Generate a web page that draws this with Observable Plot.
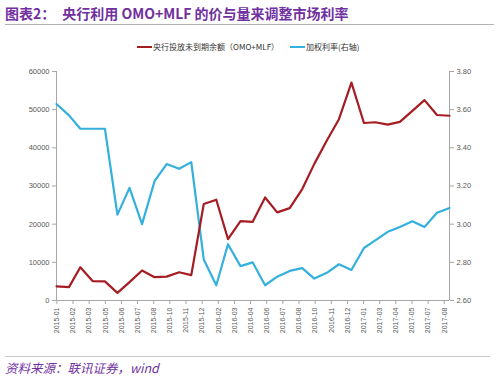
<!DOCTYPE html>
<html><head><meta charset="utf-8">
<script src="https://cdn.jsdelivr.net/npm/d3@7"></script>
<script src="https://cdn.jsdelivr.net/npm/@observablehq/plot@0.6"></script>
<style>
body{margin:0;background:#fff;width:498px;height:384px;overflow:hidden;font-family:"Noto Sans CJK SC","Liberation Sans",sans-serif;}
#title{margin:0 4px 0 5px;height:24px;border-bottom:1px solid #b4b4b4;color:#7030A0;font-weight:bold;font-size:14px;line-height:26px;white-space:pre;}
#title .main{margin-left:7px;}
#chart{position:relative;height:327px;}
#chart svg{display:block;}
.leg{position:absolute;top:16px;font-size:8px;line-height:12px;color:#333;display:flex;align-items:center;white-space:nowrap;}
.leg i{display:inline-block;width:15px;height:2.5px;margin-right:1px;}
#footer{margin:4px 8px 0 5px;border-top:1px solid #c8c8c8;color:#7030A0;font-style:italic;font-size:12.5px;line-height:16px;padding-top:3px;}
</style></head>
<body>
<div id="title">图表2：<span class="main">央行利用 OMO+MLF 的价与量来调整市场利率</span></div>
<div id="chart">
  <div class="leg" style="left:137px"><i style="background:#A61C23"></i>央行投放未到期余额（OMO+MLF）</div>
  <div class="leg" style="left:290px"><i style="background:#33B0DC"></i>加权利率(右轴)</div>
</div>
<div id="footer">资料来源：联讯证券，wind</div>
<script>
const dates = ["2014-12-31","2015-01-31","2015-02-28","2015-03-31","2015-04-30","2015-05-31","2015-06-30","2015-07-31","2015-08-31","2015-09-30","2015-10-31","2015-11-30","2015-12-31","2016-01-31","2016-02-29","2016-03-31","2016-04-30","2016-05-31","2016-06-30","2016-07-31","2016-08-31","2016-09-30","2016-10-31","2016-11-30","2016-12-31","2017-01-31","2017-02-28","2017-03-31","2017-04-30","2017-05-31","2017-06-30","2017-07-31","2017-08-31"];
const omoMlf = [3700,3500,8700,5050,5000,2000,4800,7850,6100,6250,7400,6650,25300,26400,16100,20800,20600,27000,23100,24200,29200,35800,41900,47500,57100,46500,46700,46100,46800,49700,52500,48600,48400];
const rate = [3.63,3.57,3.50,3.50,3.50,3.05,3.19,3.00,3.225,3.315,3.29,3.325,2.815,2.68,2.895,2.78,2.80,2.68,2.725,2.755,2.77,2.715,2.745,2.79,2.76,2.875,2.915,2.96,2.985,3.015,2.985,3.06,3.085];
const xTickDates = ["2015-01-01","2015-02-10","2015-03-22","2015-05-01","2015-06-10","2015-07-20","2015-08-29","2015-10-08","2015-11-17","2015-12-27","2016-02-05","2016-03-16","2016-04-25","2016-06-04","2016-07-14","2016-08-23","2016-10-02","2016-11-11","2016-12-21","2017-01-30","2017-03-11","2017-04-20","2017-05-30","2017-07-09","2017-08-18"];
const leftTicks = [0,10000,20000,30000,40000,50000,60000];
const rightTicks = [2.6,2.8,3.0,3.2,3.4,3.6,3.8];

const L0 = 0, L1 = 60000, R0 = 2.6, R1 = 3.8;
const toLeft = v => L0 + (v - R0) / (R1 - R0) * (L1 - L0);
const fromLeft = v => R0 + (v - L0) / (L1 - L0) * (R1 - R0);

const parse = d3.utcParse("%Y-%m-%d");
const data = dates.map((d, i) => ({date: parse(d), omo: omoMlf[i], rate: rate[i]}));
const xDomain = [data[0].date, data[data.length - 1].date];
const axisColor = "#a6a6a6";
const textColor = "#595959";

const chart = Plot.plot({
  width: 498, height: 327,
  marginTop: 46, marginBottom: 52, marginLeft: 56, marginRight: 49,
  style: {fontFamily: "'Liberation Sans', Arial, sans-serif", fontSize: "7.5px", color: textColor, background: "#fff"},
  x: {type: "utc", domain: xDomain},
  y: {domain: [L0, L1]},
  marks: [
    Plot.ruleY([L0], {stroke: axisColor}),
    Plot.ruleX([xDomain[0]], {stroke: axisColor}),
    Plot.ruleX([xDomain[1]], {stroke: axisColor}),
    Plot.axisX(xTickDates.map(parse), {tickRotate: -90, tickFormat: d3.utcFormat("%Y-%m"), tickSize: 4, tickPadding: 3, fontSize: 7, stroke: axisColor, fill: textColor, label: null}),
    Plot.axisY(leftTicks, {anchor: "left", tickSize: 4, tickPadding: 3, tickFormat: d3.format("d"), stroke: axisColor, fill: textColor, label: null}),
    Plot.axisY(rightTicks.map(toLeft), {anchor: "right", tickSize: 4, tickPadding: 3, tickFormat: d => fromLeft(d).toFixed(2), stroke: axisColor, fill: textColor, label: null}),
    Plot.lineY(data, {x: "date", y: d => toLeft(d.rate), stroke: "#33B0DC", strokeWidth: 2.2}),
    Plot.lineY(data, {x: "date", y: "omo", stroke: "#A61C23", strokeWidth: 2.2})
  ]
});
document.getElementById("chart").appendChild(chart);
</script>
</body></html>
